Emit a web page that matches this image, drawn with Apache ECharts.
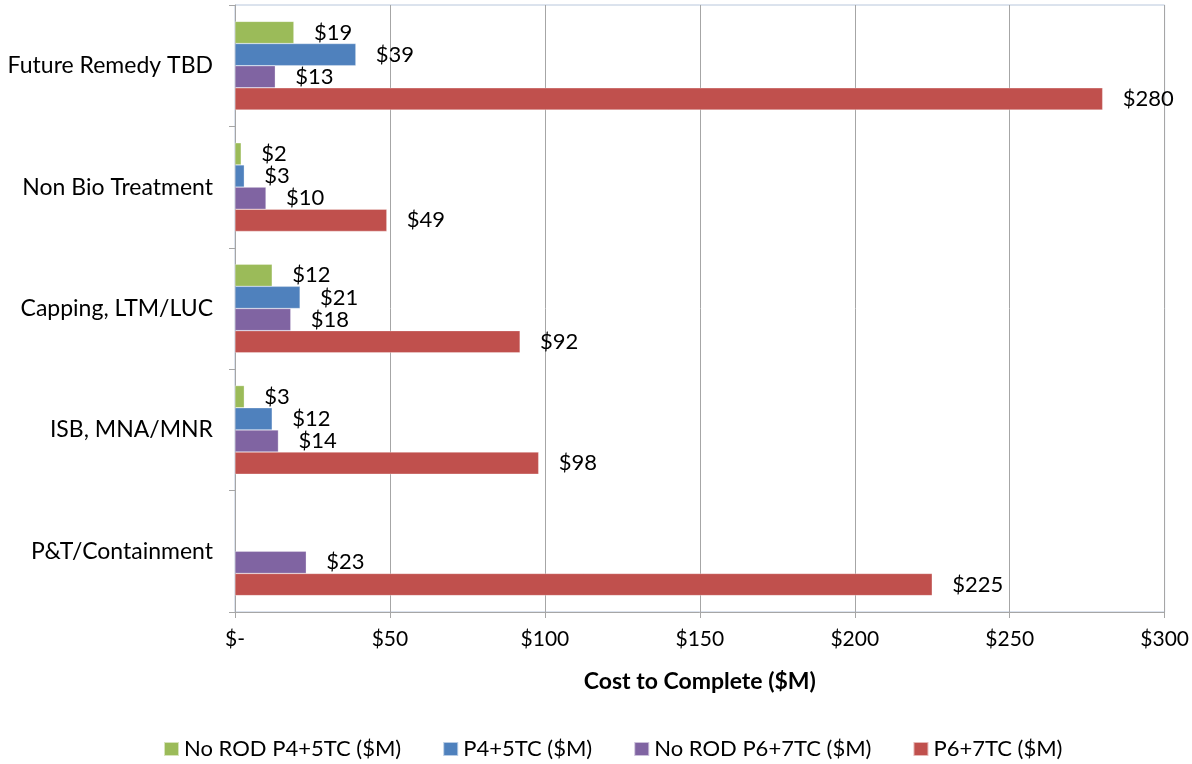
<!DOCTYPE html>
<html>
<head>
<meta charset="utf-8">
<script src="https://cdn.jsdelivr.net/npm/echarts@6/dist/echarts.min.js"></script>
<style>html,body{margin:0;padding:0;background:#fff;}#c{width:1192px;height:764px;}</style>
</head>
<body>
<div id="c"></div>
<script>
const categories = ['Future Remedy TBD', 'Non Bio Treatment', 'Capping, LTM/LUC', 'ISB, MNA/MNR', 'P&T/Containment'];
const seriesNames = ['No ROD P4+5TC ($M)', 'P4+5TC ($M)', 'No ROD P6+7TC ($M)', 'P6+7TC ($M)'];
const noRodP45 = [19, 2, 12, 3, null];
const p45 = [39, 3, 21, 12, null];
const noRodP67 = [13, 10, 18, 14, 23];
const p67 = [280, 49, 92, 98, 225];
const xTicks = [0, 50, 100, 150, 200, 250, 300];
const colors = ['#9BBB59', '#4F81BD', '#8064A2', '#C0504D'];
const values = [noRodP45, p45, noRodP67, p67];

const FONT = 'Lato';
const chart = echarts.init(document.getElementById('c'));
chart.setOption({
  animation: false,
  textStyle: { fontFamily: FONT },
  grid: { left: 235, right: 27, top: 5, bottom: 152, show: true, borderColor: '#b8c7dc', borderWidth: 1 },
  legend: {
    bottom: -1, left: 158, itemGap: 41, itemWidth: 15, itemHeight: 14, icon: 'rect',
    textStyle: { fontSize: 22, color: '#000', fontFamily: FONT, padding: [0, 0, 0, 0] },
    data: seriesNames
  },
  xAxis: {
    type: 'value', min: xTicks[0], max: xTicks[xTicks.length - 1], interval: 50,
    name: 'Cost to Complete ($M)', nameLocation: 'middle', nameGap: 58,
    nameTextStyle: { fontSize: 23, fontWeight: 'bold', color: '#000', fontFamily: FONT },
    axisLine: { show: true, lineStyle: { color: '#a6a6a6', width: 1 } },
    axisTick: { show: true, length: 6, lineStyle: { color: '#a6a6a6' } },
    axisLabel: { fontSize: 21, color: '#000', margin: 17, formatter: v => v === 0 ? '$-' : '$' + v },
    splitLine: { show: true, lineStyle: { color: '#a6a6a6', width: 1 } }
  },
  yAxis: {
    type: 'category', data: categories, inverse: true,
    axisLine: { show: true, lineStyle: { color: '#a6a6a6', width: 1 } },
    axisTick: { show: true, length: 6, inside: false, lineStyle: { color: '#a6a6a6' } },
    axisLabel: { fontSize: 23, color: '#000', margin: 22 }
  },
  series: seriesNames.map((n, i) => ({
    name: n, type: 'bar', data: values[i],
    barGap: '0%', barCategoryGap: '27%',
    itemStyle: { color: colors[i], borderColor: 'rgba(255,255,255,0.6)', borderWidth: 0.5 },
    label: { show: true, position: 'right', distance: 20, fontSize: 22, color: '#000', fontFamily: FONT,
      formatter: p => p.value == null ? '' : '$' + p.value }
  }))
});
</script>
</body>
</html>
